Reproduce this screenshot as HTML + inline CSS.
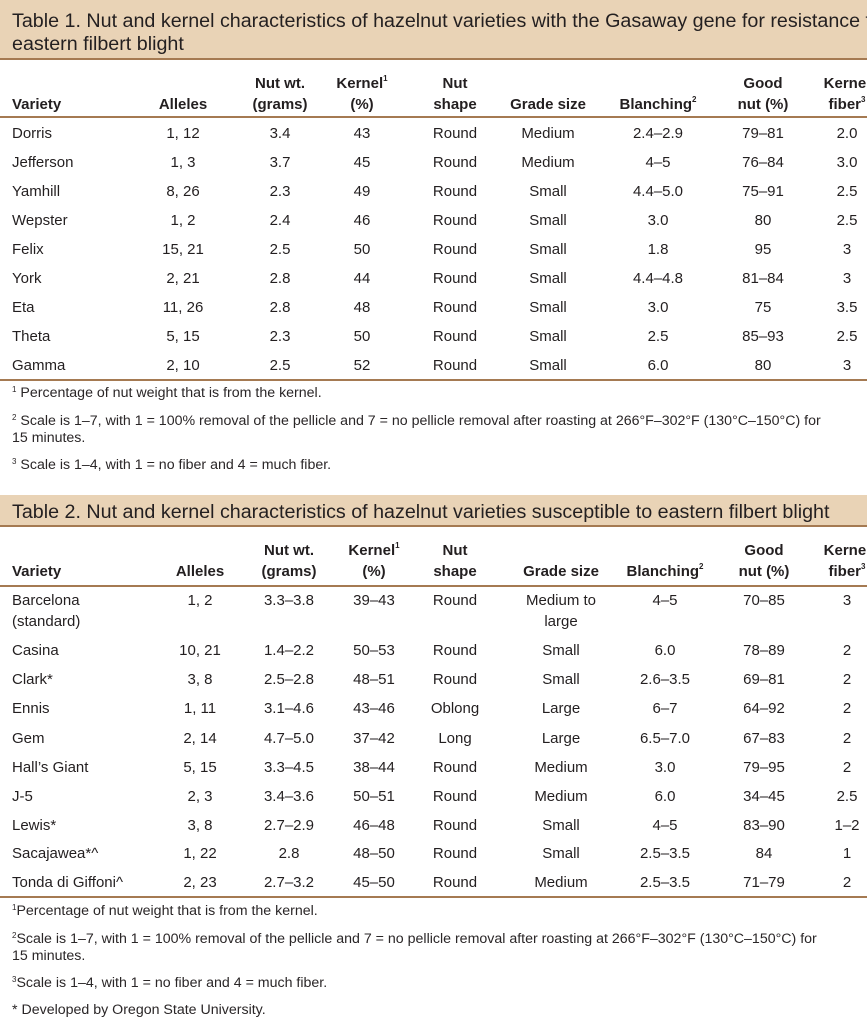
<!DOCTYPE html>
<html><head><meta charset="utf-8"><style>
*{margin:0;padding:0;box-sizing:border-box}
body{width:867px;height:1024px;background:#fff;position:relative;overflow:hidden;font-family:"Liberation Sans",sans-serif;color:#231f20}
.band{position:absolute;left:0;width:867px;background:#e9d3b6}
.ln{position:absolute;left:0;width:867px;background:#a57a52}
.t{position:absolute;white-space:nowrap}
.r{position:absolute;left:0;width:867px;height:20px;line-height:20px;font-size:15px}
.r span{position:absolute;width:130px;text-align:center}
.r span.v{left:12px;text-align:left;width:200px}
.h{font-weight:bold}
.fn{position:absolute;left:12px;font-size:14.2px;white-space:nowrap;line-height:17px;color:#2a2627}
sup{font-size:8px;vertical-align:top;line-height:10px}
</style></head><body>
<div class="band" style="top:0;height:58px"></div>
<div class="ln" style="top:58px;height:2px"></div>
<div class="t" style="left:12px;top:10px;font-size:19.7px;line-height:23px">Table 1. Nut and kernel characteristics of hazelnut varieties with the Gasaway gene for resistance to<br>eastern filbert blight</div>

<div class="r h" style="top:74px"><span style="left:215px">Nut wt.</span><span style="left:297px">Kernel<sup>1</sup></span><span style="left:390px">Nut</span><span style="left:698px">Good</span><span style="left:782px">Kernel</span></div>
<div class="r h" style="top:95px"><span class="v">Variety</span><span style="left:118px">Alleles</span><span style="left:215px">(grams)</span><span style="left:297px">(%)</span><span style="left:390px">shape</span><span style="left:483px">Grade size</span><span style="left:593px">Blanching<sup>2</sup></span><span style="left:698px">nut (%)</span><span style="left:782px">fiber<sup>3</sup></span></div>
<div class="ln" style="top:116px;height:2px"></div>

<div class="ln" style="top:379px;height:2px"></div>
<div class="fn" style="top:385px"><sup>1</sup> Percentage of nut weight that is from the kernel.</div>
<div class="fn" style="top:413px"><sup>2</sup> Scale is 1–7, with 1 = 100% removal of the pellicle and 7 = no pellicle removal after roasting at 266°F–302°F (130°C–150°C) for<br>15 minutes.</div>
<div class="fn" style="top:457px"><sup>3</sup> Scale is 1–4, with 1 = no fiber and 4 = much fiber.</div>

<div class="band" style="top:495px;height:31px"></div>
<div class="ln" style="top:525px;height:2px"></div>
<div class="t" style="left:12px;top:501px;font-size:19.7px;line-height:23px">Table 2. Nut and kernel characteristics of hazelnut varieties susceptible to eastern filbert blight</div>

<div class="r h" style="top:541px"><span style="left:224px">Nut wt.</span><span style="left:309px">Kernel<sup>1</sup></span><span style="left:390px">Nut</span><span style="left:699px">Good</span><span style="left:782px">Kernel</span></div>
<div class="r h" style="top:562px"><span class="v">Variety</span><span style="left:135px">Alleles</span><span style="left:224px">(grams)</span><span style="left:309px">(%)</span><span style="left:390px">shape</span><span style="left:496px">Grade size</span><span style="left:600px">Blanching<sup>2</sup></span><span style="left:699px">nut (%)</span><span style="left:782px">fiber<sup>3</sup></span></div>
<div class="ln" style="top:585px;height:2px"></div>
<div class="ln" style="top:896px;height:2px"></div>
<div class="fn" style="top:903px"><sup>1</sup>Percentage of nut weight that is from the kernel.</div>
<div class="fn" style="top:931px"><sup>2</sup>Scale is 1–7, with 1 = 100% removal of the pellicle and 7 = no pellicle removal after roasting at 266°F–302°F (130°C–150°C) for<br>15 minutes.</div>
<div class="fn" style="top:975px"><sup>3</sup>Scale is 1–4, with 1 = no fiber and 4 = much fiber.</div>
<div class="fn" style="top:1002px">* Developed by Oregon State University.</div>

<div class="r" style="top:124px"><span class="v">Dorris</span><span style="left:118px">1, 12</span><span style="left:215px">3.4</span><span style="left:297px">43</span><span style="left:390px">Round</span><span style="left:483px">Medium</span><span style="left:593px">2.4–2.9</span><span style="left:698px">79–81</span><span style="left:782px">2.0</span></div>
<div class="r" style="top:153px"><span class="v">Jefferson</span><span style="left:118px">1, 3</span><span style="left:215px">3.7</span><span style="left:297px">45</span><span style="left:390px">Round</span><span style="left:483px">Medium</span><span style="left:593px">4–5</span><span style="left:698px">76–84</span><span style="left:782px">3.0</span></div>
<div class="r" style="top:182px"><span class="v">Yamhill</span><span style="left:118px">8, 26</span><span style="left:215px">2.3</span><span style="left:297px">49</span><span style="left:390px">Round</span><span style="left:483px">Small</span><span style="left:593px">4.4–5.0</span><span style="left:698px">75–91</span><span style="left:782px">2.5</span></div>
<div class="r" style="top:211px"><span class="v">Wepster</span><span style="left:118px">1, 2</span><span style="left:215px">2.4</span><span style="left:297px">46</span><span style="left:390px">Round</span><span style="left:483px">Small</span><span style="left:593px">3.0</span><span style="left:698px">80</span><span style="left:782px">2.5</span></div>
<div class="r" style="top:240px"><span class="v">Felix</span><span style="left:118px">15, 21</span><span style="left:215px">2.5</span><span style="left:297px">50</span><span style="left:390px">Round</span><span style="left:483px">Small</span><span style="left:593px">1.8</span><span style="left:698px">95</span><span style="left:782px">3</span></div>
<div class="r" style="top:269px"><span class="v">York</span><span style="left:118px">2, 21</span><span style="left:215px">2.8</span><span style="left:297px">44</span><span style="left:390px">Round</span><span style="left:483px">Small</span><span style="left:593px">4.4–4.8</span><span style="left:698px">81–84</span><span style="left:782px">3</span></div>
<div class="r" style="top:298px"><span class="v">Eta</span><span style="left:118px">11, 26</span><span style="left:215px">2.8</span><span style="left:297px">48</span><span style="left:390px">Round</span><span style="left:483px">Small</span><span style="left:593px">3.0</span><span style="left:698px">75</span><span style="left:782px">3.5</span></div>
<div class="r" style="top:327px"><span class="v">Theta</span><span style="left:118px">5, 15</span><span style="left:215px">2.3</span><span style="left:297px">50</span><span style="left:390px">Round</span><span style="left:483px">Small</span><span style="left:593px">2.5</span><span style="left:698px">85–93</span><span style="left:782px">2.5</span></div>
<div class="r" style="top:356px"><span class="v">Gamma</span><span style="left:118px">2, 10</span><span style="left:215px">2.5</span><span style="left:297px">52</span><span style="left:390px">Round</span><span style="left:483px">Small</span><span style="left:593px">6.0</span><span style="left:698px">80</span><span style="left:782px">3</span></div>

<div class="r" style="top:591px"><span class="v">Barcelona</span><span style="left:135px">1, 2</span><span style="left:224px">3.3–3.8</span><span style="left:309px">39–43</span><span style="left:390px">Round</span><span style="left:496px">Medium to</span><span style="left:600px">4–5</span><span style="left:699px">70–85</span><span style="left:782px">3</span></div>
<div class="r" style="top:612px"><span class="v">(standard)</span><span style="left:496px">large</span></div>
<div class="r" style="top:641px"><span class="v">Casina</span><span style="left:135px">10, 21</span><span style="left:224px">1.4–2.2</span><span style="left:309px">50–53</span><span style="left:390px">Round</span><span style="left:496px">Small</span><span style="left:600px">6.0</span><span style="left:699px">78–89</span><span style="left:782px">2</span></div>
<div class="r" style="top:670px"><span class="v">Clark*</span><span style="left:135px">3, 8</span><span style="left:224px">2.5–2.8</span><span style="left:309px">48–51</span><span style="left:390px">Round</span><span style="left:496px">Small</span><span style="left:600px">2.6–3.5</span><span style="left:699px">69–81</span><span style="left:782px">2</span></div>
<div class="r" style="top:699px"><span class="v">Ennis</span><span style="left:135px">1, 11</span><span style="left:224px">3.1–4.6</span><span style="left:309px">43–46</span><span style="left:390px">Oblong</span><span style="left:496px">Large</span><span style="left:600px">6–7</span><span style="left:699px">64–92</span><span style="left:782px">2</span></div>
<div class="r" style="top:729px"><span class="v">Gem</span><span style="left:135px">2, 14</span><span style="left:224px">4.7–5.0</span><span style="left:309px">37–42</span><span style="left:390px">Long</span><span style="left:496px">Large</span><span style="left:600px">6.5–7.0</span><span style="left:699px">67–83</span><span style="left:782px">2</span></div>
<div class="r" style="top:758px"><span class="v">Hall’s Giant</span><span style="left:135px">5, 15</span><span style="left:224px">3.3–4.5</span><span style="left:309px">38–44</span><span style="left:390px">Round</span><span style="left:496px">Medium</span><span style="left:600px">3.0</span><span style="left:699px">79–95</span><span style="left:782px">2</span></div>
<div class="r" style="top:787px"><span class="v">J-5</span><span style="left:135px">2, 3</span><span style="left:224px">3.4–3.6</span><span style="left:309px">50–51</span><span style="left:390px">Round</span><span style="left:496px">Medium</span><span style="left:600px">6.0</span><span style="left:699px">34–45</span><span style="left:782px">2.5</span></div>
<div class="r" style="top:816px"><span class="v">Lewis*</span><span style="left:135px">3, 8</span><span style="left:224px">2.7–2.9</span><span style="left:309px">46–48</span><span style="left:390px">Round</span><span style="left:496px">Small</span><span style="left:600px">4–5</span><span style="left:699px">83–90</span><span style="left:782px">1–2</span></div>
<div class="r" style="top:844px"><span class="v">Sacajawea*^</span><span style="left:135px">1, 22</span><span style="left:224px">2.8</span><span style="left:309px">48–50</span><span style="left:390px">Round</span><span style="left:496px">Small</span><span style="left:600px">2.5–3.5</span><span style="left:699px">84</span><span style="left:782px">1</span></div>
<div class="r" style="top:873px"><span class="v">Tonda di Giffoni^</span><span style="left:135px">2, 23</span><span style="left:224px">2.7–3.2</span><span style="left:309px">45–50</span><span style="left:390px">Round</span><span style="left:496px">Medium</span><span style="left:600px">2.5–3.5</span><span style="left:699px">71–79</span><span style="left:782px">2</span></div>
</body></html>
